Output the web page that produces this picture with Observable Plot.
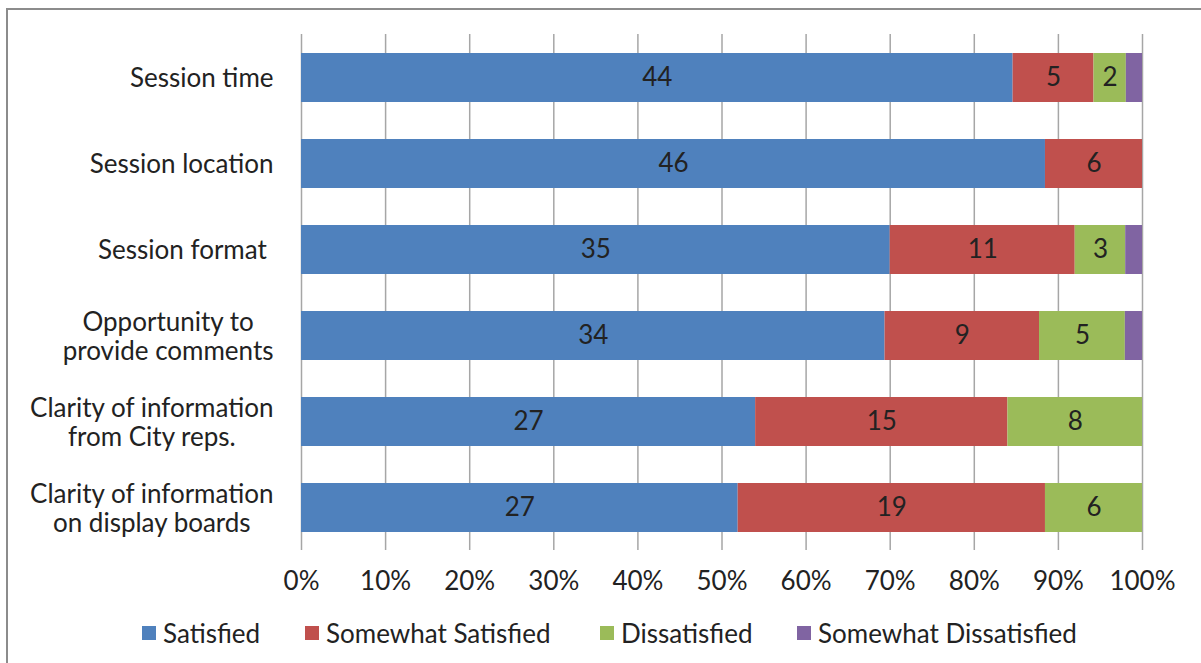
<!DOCTYPE html>
<html>
<head>
<meta charset="utf-8">
<script src="https://cdn.jsdelivr.net/npm/d3@7"></script>
<script src="https://cdn.jsdelivr.net/npm/@observablehq/plot@0.6"></script>
<style>
  html, body { margin: 0; padding: 0; background: #fff; }
  body { width: 1201px; height: 663px; position: relative; overflow: hidden; font-family: Lato, sans-serif; }
  #frame { position: absolute; left: 6px; top: 8px; width: 1300px; height: 800px; border-left: 2px solid #8c8c8c; border-top: 2px solid #8c8c8c; }
  #chart { position: absolute; left: 0; top: 0; }
  #legend { position: absolute; left: 0; top: 617px; width: 1201px; height: 32px; font-size: 26px; color: #222; }
  .item { position: absolute; top: 0; height: 32px; display: flex; align-items: center; white-space: nowrap; }
  .sw { width: 14px; height: 14px; margin-right: 7px; }
</style>
</head>
<body>
<div id="frame"></div>
<div id="chart"></div>
<div id="legend"></div>
<script>
const categories = ["Session time", "Session location", "Session format\u00a0", "Opportunity to\nprovide comments", "Clarity of information\nfrom City reps.", "Clarity of information\non display boards"];
const series = ["Satisfied", "Somewhat Satisfied", "Dissatisfied", "Somewhat Dissatisfied"];
const colors = ["#4F81BD", "#C0504D", "#9BBB59", "#8064A2"];
const satisfied = [44, 46, 35, 34, 27, 27];
const somewhatSatisfied = [5, 6, 11, 9, 15, 19];
const dissatisfied = [2, 0, 3, 5, 8, 6];
const somewhatDissatisfied = [1, 0, 1, 1, 0, 0];
const xTicks = [0, 0.1, 0.2, 0.3, 0.4, 0.5, 0.6, 0.7, 0.8, 0.9, 1];
const xTickLabels = ["0%", "10%", "20%", "30%", "40%", "50%", "60%", "70%", "80%", "90%", "100%"];
const legendLefts = [142, 305, 600, 797];

const seriesValues = [satisfied, somewhatSatisfied, dissatisfied, somewhatDissatisfied];
const rows = [];
categories.forEach((c, i) => {
  series.forEach((s, j) => rows.push({category: c, series: s, value: seriesValues[j][i]}));
});

const stackOpts = {offset: "normalize", order: series, x: "value", y: "category"};

const chart = Plot.plot({
  width: 1201,
  height: 600,
  marginTop: 34,
  marginBottom: 50,
  marginLeft: 301,
  marginRight: 59,
  style: {fontFamily: "Lato, sans-serif", fontSize: "26px", color: "#222", background: "transparent"},
  x: {domain: [0, 1], label: null},
  y: {domain: categories, paddingInner: 0.435, paddingOuter: 0.2175, axis: null},
  color: {domain: series, range: colors},
  marks: [
    Plot.ruleX(xTicks, {stroke: "#a6a6a6", strokeWidth: 1.5}),
    Plot.barX(rows, Plot.stackX({...stackOpts, fill: "series"})),
    Plot.text(rows, Plot.stackX({...stackOpts, z: "series", text: d => d.value > 1 ? String(d.value) : null, fill: "#222", fontSize: 26})),
    Plot.text(categories, {y: d => d, text: d => d, frameAnchor: "left", textAnchor: "end", dx: -28, fontSize: 26, lineHeight: 1.12, fill: "#222"}),
    Plot.axisX({ticks: xTicks, tickFormat: (d, i) => xTickLabels[i], tickSize: 0, tickPadding: 21, fontSize: 26, fill: "#222", label: null})
  ]
});
document.getElementById("chart").appendChild(chart);

// center the lines of multi-line category labels within their right-aligned block
chart.querySelectorAll("text").forEach(t => {
  const spans = t.querySelectorAll("tspan");
  if (spans.length > 1) {
    const b = t.getBBox();
    t.setAttribute("text-anchor", "middle");
    spans.forEach(s => s.setAttribute("x", b.x + b.width / 2));
  }
});

const legend = document.getElementById("legend");
series.forEach((s, j) => {
  const it = document.createElement("div");
  it.className = "item";
  it.style.left = legendLefts[j] + "px";
  const sw = document.createElement("div");
  sw.className = "sw";
  sw.style.background = colors[j];
  const tx = document.createElement("span");
  tx.textContent = s;
  it.appendChild(sw); it.appendChild(tx);
  legend.appendChild(it);
});
</script>
</body>
</html>
